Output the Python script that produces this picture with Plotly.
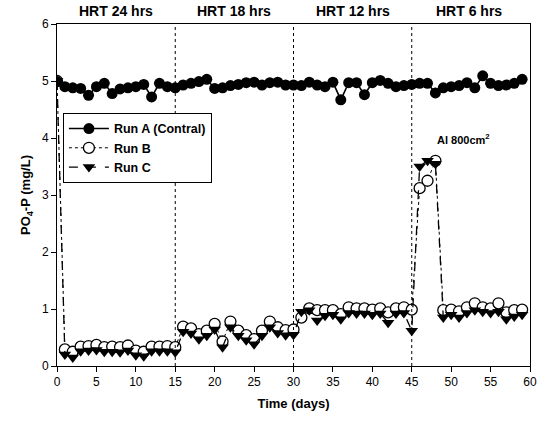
import plotly.graph_objects as go

days = list(range(0, 60))

run_a = [4.99, 4.9, 4.88, 4.87, 4.75, 4.9, 4.96, 4.78, 4.86, 4.88,
         4.9, 4.94, 4.72, 4.96, 4.9, 4.88, 4.93, 4.96, 4.99, 5.03,
         4.87, 4.88, 4.92, 4.94, 4.97, 4.98, 4.93, 4.97, 4.98, 4.93,
         4.93, 4.92, 4.98, 4.93, 4.9, 4.98, 4.67, 4.97, 4.97, 4.76,
         4.97, 5.01, 4.96, 4.9, 4.92, 4.94, 4.96, 4.96, 4.79, 4.88,
         4.9, 4.92, 4.97, 4.88, 5.09, 4.96, 4.92, 4.93, 4.96, 5.03]

run_b = [5.0,
         0.29, 0.25, 0.34, 0.35, 0.37, 0.33, 0.34, 0.33, 0.36, 0.27, 0.25, 0.34, 0.34, 0.35, 0.33,
         0.69, 0.66, 0.56, 0.62, 0.74, 0.43, 0.78, 0.62, 0.54, 0.47, 0.62, 0.78, 0.68, 0.63, 0.64,
         0.85, 1.01, 0.98, 0.98, 0.98, 0.91, 1.03, 1.01, 1.01, 0.99, 1.01, 0.94, 1.01, 1.03, 0.99,
         3.12, 3.25, 3.6,
         0.98, 0.99, 0.96, 1.03, 1.1, 1.03, 1.01, 1.1, 0.94, 0.98, 0.99]

run_c = [5.0,
         0.2, 0.15, 0.26, 0.27, 0.28, 0.25, 0.25, 0.24, 0.27, 0.19, 0.17, 0.26, 0.26, 0.26, 0.24,
         0.6, 0.57, 0.47, 0.53, 0.64, 0.33, 0.68, 0.53, 0.45, 0.38, 0.53, 0.68, 0.58, 0.54, 0.55,
         0.95, 0.98, 0.8, 0.88, 0.9, 0.82, 0.93, 0.92, 0.92, 0.9, 0.92, 0.76, 0.92, 0.93, 0.62,
         3.5, 3.6, 3.55,
         0.85, 0.9, 0.85, 0.93, 0.98, 0.95, 0.93, 0.95, 0.82, 0.87, 0.9]

phase_bounds = [15, 30, 45]
phase_labels = ["HRT 24 hrs", "HRT 18 hrs", "HRT 12 hrs", "HRT 6 hrs"]
phase_label_x = [7.5, 22.5, 37.5, 52.3]

FONT = "Liberation Sans, Arial, sans-serif"

fig = go.Figure()

fig.add_trace(go.Scatter(
    x=days, y=run_b, name="<b>Run B</b>", mode="lines+markers", legendrank=2,
    line=dict(color="black", width=1, dash="dot"),
    marker=dict(symbol="circle", size=11, color="white", line=dict(color="black", width=1.3)),
))
fig.add_trace(go.Scatter(
    x=days, y=run_c, name="<b>Run C</b>", mode="lines+markers", legendrank=3,
    line=dict(color="black", width=1.3, dash="dash"),
    marker=dict(symbol="triangle-down", size=11, color="black"),
))
fig.add_trace(go.Scatter(
    x=days, y=run_a, name="<b>Run A (Contral)</b>", mode="lines+markers", legendrank=1,
    line=dict(color="black", width=1.6),
    marker=dict(symbol="circle", size=11, color="black"),
))

for b in phase_bounds:
    fig.add_vline(x=b, line=dict(color="black", width=1, dash="dot"))

for lbl, xv in zip(phase_labels, phase_label_x):
    fig.add_annotation(x=xv, y=1.0, xref="x", yref="paper", yanchor="bottom", yshift=3,
                       text="<b>%s</b>" % lbl, showarrow=False,
                       font=dict(family=FONT, size=14, color="black"))

fig.add_annotation(x=51.6, y=3.98, xref="x", yref="y", text="<b>Al 800cm<sup>2</sup></b>",
                   showarrow=False, font=dict(family=FONT, size=11, color="black"))

fig.update_layout(
    width=545, height=424,
    margin=dict(l=57, r=8, t=24, b=58),
    paper_bgcolor="white", plot_bgcolor="white",
    font=dict(family=FONT, size=12, color="black"),
    showlegend=True,
    legend=dict(x=0.0125, y=0.74, xanchor="left", yanchor="top",
                bgcolor="white", bordercolor="black", borderwidth=1,
                font=dict(family=FONT, size=12.5, color="black"),
                tracegroupgap=0, itemwidth=40),
    xaxis=dict(range=[0, 60], tickmode="linear", tick0=0, dtick=5,
               ticks="outside", ticklen=5, tickcolor="black",
               showline=True, linecolor="black", linewidth=1, mirror=True,
               showgrid=False, zeroline=False,
               tickfont=dict(family=FONT, size=12, color="black"),
               title=dict(text="<b>Time (days)</b>", font=dict(family=FONT, size=13), standoff=10)),
    yaxis=dict(range=[0, 6], tickmode="linear", tick0=0, dtick=1,
               ticks="outside", ticklen=5, tickcolor="black",
               showline=True, linecolor="black", linewidth=1, mirror=True,
               showgrid=False, zeroline=False,
               tickfont=dict(family=FONT, size=12, color="black"),
               title=dict(text="<b>PO<sub>4</sub>-P (mg/L)</b>", font=dict(family=FONT, size=13), standoff=8)),
)

fig.write_html("out.html")
